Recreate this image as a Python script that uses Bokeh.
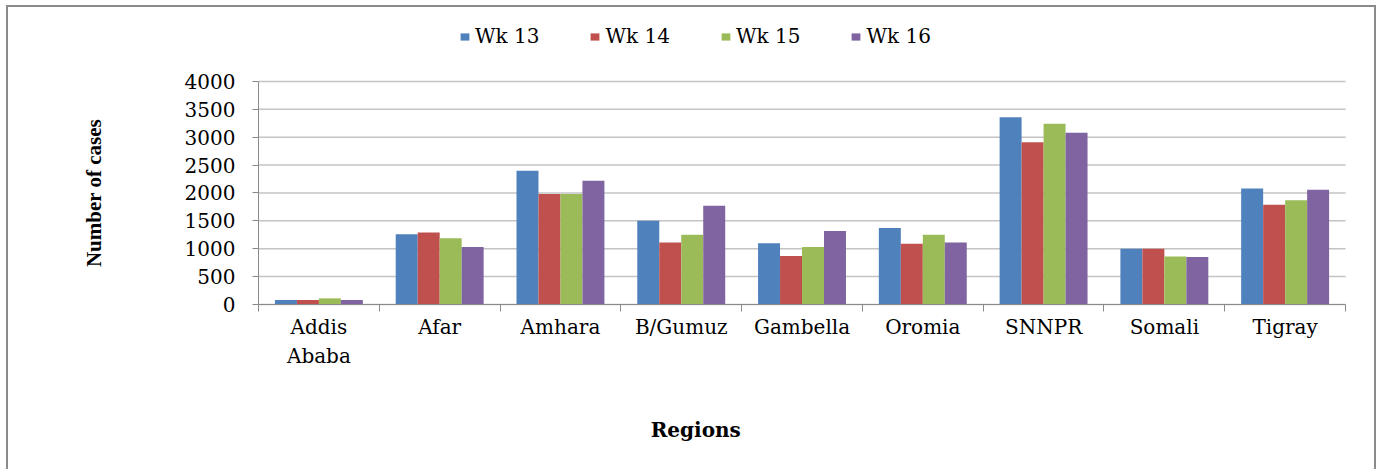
from bokeh.plotting import figure
from bokeh.models import (Range1d, FixedTicker, Legend, LegendItem, Label)
from bokeh.embed import file_html
from bokeh.resources import INLINE
import numpy as np

# Weekly case counts per region
regions = ["Addis\nAbaba", "Afar", "Amhara", "B/Gumuz", "Gambella",
           "Oromia", "SNNPR", "Somali", "Tigray"]
weeks = ["Wk 13", "Wk 14", "Wk 15", "Wk 16"]
wk13 = [80, 1260, 2400, 1500, 1100, 1370, 3360, 1000, 2080]
wk14 = [80, 1290, 1980, 1110, 870, 1090, 2910, 1000, 1790]
wk15 = [110, 1190, 1980, 1250, 1030, 1250, 3240, 860, 1870]
wk16 = [80, 1030, 2220, 1770, 1320, 1110, 3080, 850, 2060]
series = [wk13, wk14, wk15, wk16]
colors = ["#4F81BD", "#C0504D", "#9BBB59", "#8064A2"]

y_ticks = [0, 500, 1000, 1500, 2000, 2500, 3000, 3500, 4000]

SERIF = "DejaVu Serif"
AXIS_GREY = "#8a8a8a"
n = len(regions)

# The frame fills the whole canvas; the axes sit at x=0 / y=0 inside it so
# legend and titles can live in the free space around the bars.
p = figure(width=1370, height=475, output_backend="svg", toolbar_location=None,
           x_range=Range1d(-2.07, 9.273), y_range=Range1d(-3193, 5327),
           min_border=0)
p.styles = {"border": "2px solid #8a8a8a", "margin-left": "6px", "margin-top": "5px"}
p.outline_line_color = None
p.background_fill_color = "white"
p.border_fill_color = "white"
p.xgrid.grid_line_color = None
p.ygrid.grid_line_color = None

# horizontal gridlines across the category span
p.segment(x0=[0] * len(y_ticks), x1=[n] * len(y_ticks), y0=y_ticks, y1=y_ticks,
          line_color="#C4C4C4", line_width=1.5)

centers = np.arange(n) + 0.5
bar_w = 0.182
offsets = [-1.5 * bar_w, -0.5 * bar_w, 0.5 * bar_w, 1.5 * bar_w]

renderers = []
for vals, off, col in zip(series, offsets, colors):
    r = p.vbar(x=centers + off, top=vals, width=bar_w, bottom=0,
               fill_color=col, line_color=None)
    renderers.append(r)

# y axis
yax = p.yaxis[0]
yax.fixed_location = 0
yax.bounds = (0, 4000)
yax.ticker = FixedTicker(ticks=y_ticks)
yax.major_tick_out = 6
yax.major_tick_in = 0
yax.minor_tick_line_color = None
yax.axis_line_color = AXIS_GREY
yax.major_tick_line_color = AXIS_GREY
yax.major_label_text_font = SERIF
yax.major_label_text_font_size = "20px"
yax.major_label_text_color = "black"
yax.major_label_standoff = 17
yax.axis_label = "Number of cases"
yax.axis_label_text_font = "Liberation Serif"
yax.axis_label_text_font_style = "bold"
yax.axis_label_text_font_size = "21px"
yax.axis_label_text_color = "black"
yax.axis_label_standoff = 76

# x axis: labels at group centres, tick marks between groups
xax = p.xaxis[0]
xax.fixed_location = 0
xax.bounds = (0, n)
xax.ticker = FixedTicker(ticks=list(centers), minor_ticks=list(range(n + 1)))
xax.major_label_overrides = {float(c): name for c, name in zip(centers, regions)}
xax.major_tick_out = 0
xax.major_tick_in = 0
xax.minor_tick_out = 7
xax.minor_tick_in = 0
xax.minor_tick_line_color = AXIS_GREY
xax.axis_line_color = AXIS_GREY
xax.major_label_text_font = SERIF
xax.major_label_text_font_size = "20px"
xax.major_label_text_color = "black"
xax.major_label_standoff = 4

# x axis title, centred under the whole chart
p.add_layout(Label(x=3.62, y=-2260, text="Regions",
                   text_align="center", text_baseline="middle",
                   text_font=SERIF, text_font_style="bold",
                   text_font_size="20px", text_color="black"))

legend = Legend(items=[LegendItem(label=w, renderers=[r]) for w, r in zip(weeks, renderers)],
                orientation="horizontal", location=(451, 434),
                glyph_width=11, glyph_height=9, label_standoff=5, spacing=50,
                padding=0, margin=0,
                label_text_font=SERIF, label_text_font_size="20px",
                label_text_color="black",
                border_line_color=None, background_fill_alpha=0)
p.add_layout(legend, "center")

open("out.html", "w").write(file_html(p, INLINE))
